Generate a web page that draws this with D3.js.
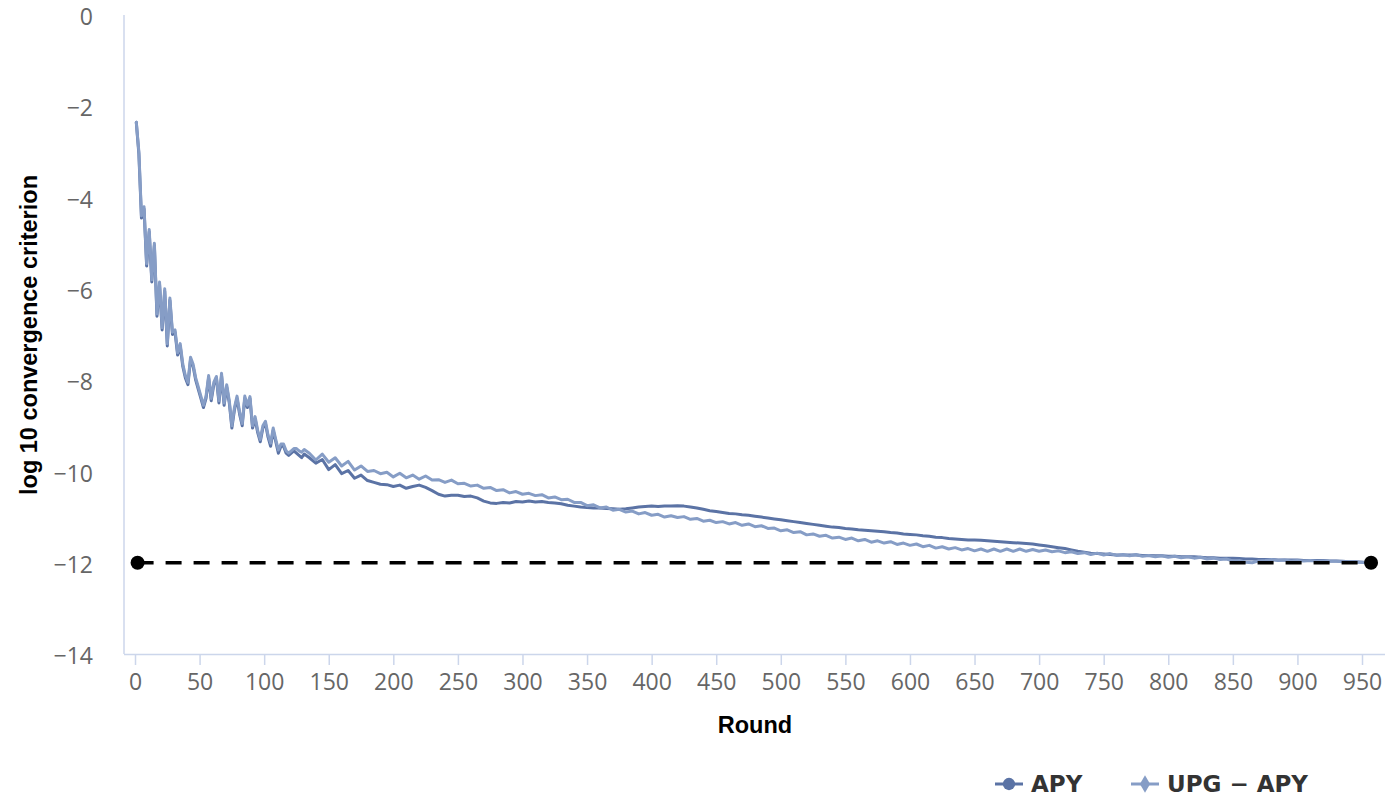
<!DOCTYPE html>
<html><head><meta charset="utf-8">
<script src="https://cdn.jsdelivr.net/npm/d3@7"></script>
<style>body{margin:0;background:#fff}svg{display:block}</style>
</head><body>
<svg id="chart" width="1389" height="798"></svg>
<script>
// ---------- data ----------
const seriesNames = ["APY", "UPG − APY"];
const roundsEarly = d3.range(1, 132, 2);           // rounds 1..131
const roundsLate = d3.range(135, 956, 5).concat([957]); // rounds 135..955, 957
const rounds = roundsEarly.concat(roundsLate);

const apyEarly = [
 -2.35,-3.05,-4.45,-4.25,-5.5,-4.75,-5.85,-5.05,-6.6,-5.9,
 -6.9,-6.05,-7.25,-6.25,-7.0,-6.95,-7.45,-7.25,-7.7,-7.95,
 -8.1,-7.55,-7.7,-8.0,-8.2,-8.4,-8.6,-8.4,-7.95,-8.45,
 -8.1,-7.95,-8.5,-7.9,-8.55,-8.15,-8.5,-9.05,-8.65,-8.4,
 -8.75,-9.0,-8.4,-8.6,-8.4,-9.05,-8.85,-9.15,-9.35,-9.05,
 -8.95,-9.25,-9.45,-9.1,-9.35,-9.6,-9.45,-9.45,-9.6,-9.65,
 -9.6,-9.55,-9.6,-9.65,-9.7,-9.62];
const apyLate = [
 -9.7,-9.82,-9.74,-9.96,-9.85,-10.05,-9.98,-10.15,-10.08,-10.2,
 -10.24,-10.28,-10.29,-10.33,-10.3,-10.37,-10.33,-10.3,-10.35,-10.42,
 -10.5,-10.54,-10.52,-10.52,-10.55,-10.54,-10.58,-10.65,-10.69,-10.7,
 -10.68,-10.69,-10.66,-10.67,-10.65,-10.67,-10.66,-10.68,-10.69,-10.71,
 -10.74,-10.76,-10.78,-10.79,-10.8,-10.8,-10.81,-10.82,-10.83,-10.82,
 -10.8,-10.78,-10.77,-10.76,-10.77,-10.76,-10.76,-10.75,-10.76,-10.78,
 -10.8,-10.83,-10.86,-10.88,-10.9,-10.92,-10.93,-10.95,-10.96,-10.98,
 -11.0,-11.02,-11.04,-11.06,-11.08,-11.1,-11.12,-11.14,-11.16,-11.18,
 -11.2,-11.22,-11.23,-11.25,-11.26,-11.28,-11.29,-11.3,-11.31,-11.32,
 -11.34,-11.35,-11.37,-11.38,-11.39,-11.41,-11.42,-11.44,-11.45,-11.47,
 -11.48,-11.49,-11.5,-11.5,-11.51,-11.52,-11.53,-11.54,-11.55,-11.56,
 -11.57,-11.58,-11.59,-11.61,-11.63,-11.65,-11.67,-11.69,-11.72,-11.75,
 -11.77,-11.79,-11.8,-11.81,-11.82,-11.83,-11.83,-11.83,-11.83,-11.84,
 -11.84,-11.85,-11.85,-11.86,-11.86,-11.87,-11.87,-11.87,-11.88,-11.89,
 -11.89,-11.9,-11.9,-11.9,-11.91,-11.92,-11.92,-11.93,-11.93,-11.93,
 -11.94,-11.94,-11.94,-11.94,-11.95,-11.95,-11.95,-11.95,-11.96,-11.96,
 -11.97,-11.98,-11.98,-11.99,-12.0,-12.0];

const upgEarly = [
 -2.35,-3.0,-4.4,-4.2,-5.45,-4.7,-5.8,-5.0,-6.55,-5.85,
 -6.85,-6.0,-7.2,-6.2,-6.95,-6.9,-7.4,-7.2,-7.65,-7.9,
 -8.05,-7.5,-7.65,-7.95,-8.15,-8.35,-8.55,-8.35,-7.9,-8.4,
 -8.05,-7.92,-8.45,-7.85,-8.5,-8.1,-8.45,-9.0,-8.6,-8.35,
 -8.7,-8.95,-8.35,-8.55,-8.36,-9.0,-8.8,-9.1,-9.3,-9.0,
 -8.9,-9.2,-9.38,-9.05,-9.3,-9.53,-9.4,-9.4,-9.55,-9.6,
 -9.55,-9.5,-9.5,-9.55,-9.58,-9.52];
const upgLate = [
 -9.6,-9.75,-9.62,-9.8,-9.7,-9.88,-9.78,-9.97,-9.88,-10.0,
 -9.98,-10.05,-10.02,-10.12,-10.04,-10.14,-10.08,-10.17,-10.1,-10.19,
 -10.18,-10.24,-10.19,-10.27,-10.26,-10.32,-10.3,-10.37,-10.35,-10.42,
 -10.4,-10.47,-10.44,-10.5,-10.48,-10.53,-10.51,-10.58,-10.56,-10.62,
 -10.61,-10.68,-10.68,-10.75,-10.73,-10.8,-10.78,-10.85,-10.83,-10.89,
 -10.87,-10.93,-10.9,-10.96,-10.94,-11.0,-10.97,-11.01,-10.99,-11.05,
 -11.03,-11.09,-11.07,-11.12,-11.1,-11.15,-11.12,-11.18,-11.15,-11.21,
 -11.19,-11.25,-11.24,-11.3,-11.28,-11.34,-11.32,-11.39,-11.37,-11.42,
 -11.4,-11.46,-11.44,-11.49,-11.46,-11.52,-11.49,-11.55,-11.52,-11.57,
 -11.54,-11.6,-11.57,-11.62,-11.59,-11.65,-11.62,-11.68,-11.65,-11.7,
 -11.67,-11.72,-11.69,-11.74,-11.7,-11.75,-11.7,-11.75,-11.7,-11.75,
 -11.7,-11.75,-11.71,-11.75,-11.72,-11.76,-11.74,-11.78,-11.76,-11.8,
 -11.78,-11.82,-11.79,-11.83,-11.8,-11.84,-11.82,-11.85,-11.82,-11.86,
 -11.84,-11.87,-11.85,-11.88,-11.86,-11.89,-11.87,-11.9,-11.88,-11.92,
 -11.9,-11.93,-11.92,-11.96,-11.95,-11.99,-12.0,-11.96,-11.95,-11.93,
 -11.95,-11.94,-11.96,-11.95,-11.96,-11.95,-11.97,-11.96,-11.97,-11.97,
 -11.98,-11.98,-11.99,-11.99,-12.0,-12.0];

const apyValues = apyEarly.concat(apyLate);
const upgValues = upgEarly.concat(upgLate);

const thresholdValue = -12;
const thresholdRounds = [2, 957];

const xTicks = [0,50,100,150,200,250,300,350,400,450,500,550,600,650,700,750,800,850,900,950];
const yTicks = [0,-2,-4,-6,-8,-10,-12,-14];
const xTitle = "Round";
const yTitle = "log 10 convergence criterion";

const colors = ["#5b73a5", "#869dc6"];

// ---------- chart ----------
const svg = d3.select("#chart");
const plotLeft = 124, plotRight = 1385, plotTop = 15, plotBottom = 654;
const x = d3.scaleLinear().domain([-8.52, 967.8]).range([plotLeft, plotRight]);
const y = d3.scaleLinear().domain([-14, 0]).range([plotBottom, plotTop]);

const axisColor = "#ccd6eb";
const tickFont = "'Open Sans', 'Noto Sans', sans-serif";
const tickSize = 23;

// y axis line
svg.append("line").attr("x1", plotLeft).attr("x2", plotLeft)
  .attr("y1", plotTop).attr("y2", plotBottom)
  .attr("stroke", axisColor).attr("stroke-width", 1.5);

// y tick labels
svg.append("g").selectAll("text").data(yTicks).join("text")
  .attr("x", 93).attr("y", d => y(d)).attr("dy", "0.44em")
  .attr("text-anchor", "end")
  .attr("font-family", tickFont).attr("font-size", tickSize).attr("fill", "#666")
  .text(d => d === 0 ? "0" : "−" + Math.abs(d));

// x axis
const xAxis = d3.axisBottom(x).tickValues(xTicks).tickSize(11).tickPadding(9).tickFormat(d3.format("d"));
const gx = svg.append("g").attr("transform", `translate(0,${plotBottom})`).call(xAxis);
gx.select(".domain").attr("stroke", axisColor).attr("stroke-width", 1.5)
  .attr("d", `M${plotLeft},0.5H${plotRight}`);
gx.selectAll(".tick line").attr("stroke", axisColor).attr("stroke-width", 1.5);
gx.selectAll(".tick text").attr("font-family", tickFont).attr("font-size", tickSize).attr("fill", "#666");

// axis titles
svg.append("text").attr("x", 755).attr("y", 733).attr("text-anchor", "middle")
  .attr("font-family", "'Liberation Sans', Arial, sans-serif").attr("font-weight", "bold")
  .attr("font-size", 23.5).attr("fill", "#000").text(xTitle);
svg.append("text").attr("transform", "translate(37,335) rotate(-90)").attr("text-anchor", "middle")
  .attr("font-family", "'Liberation Sans', Arial, sans-serif").attr("font-weight", "bold")
  .attr("font-size", 23.5).attr("fill", "#000").text(yTitle);

// series
const line = d3.line().x(d => x(d[0])).y(d => y(d[1]));
const series = [apyValues, upgValues];
series.forEach((vals, i) => {
  const pts = rounds.map((r, k) => [r, vals[k]]);
  svg.append("path").datum(pts).attr("d", line)
    .attr("fill", "none").attr("stroke", colors[i]).attr("stroke-width", 3)
    .attr("stroke-linejoin", "round").attr("stroke-linecap", "round");
});

// threshold dashed line with end markers
svg.append("line")
  .attr("x1", x(thresholdRounds[0])).attr("x2", x(thresholdRounds[1]))
  .attr("y1", y(thresholdValue)).attr("y2", y(thresholdValue))
  .attr("stroke", "#000").attr("stroke-width", 3.4).attr("stroke-dasharray", "16,12");
svg.append("g").selectAll("circle").data(thresholdRounds).join("circle")
  .attr("cx", d => x(d)).attr("cy", y(thresholdValue)).attr("r", 7).attr("fill", "#000");

// legend
const legend = svg.append("g");
const legendItems = [
  {name: seriesNames[0], color: colors[0], sym: "circle", x: 995},
  {name: seriesNames[1], color: colors[1], sym: "diamond", x: 1131}
];
const ly = 784;
legendItems.forEach(it => {
  legend.append("line").attr("x1", it.x).attr("x2", it.x + 28).attr("y1", ly).attr("y2", ly)
    .attr("stroke", it.color).attr("stroke-width", 3);
  const sym = it.sym === "circle" ? d3.symbolCircle : d3.symbolDiamond;
  legend.append("path").attr("d", d3.symbol().type(sym).size(it.sym === "circle" ? 120 : 90)())
    .attr("transform", `translate(${it.x + 14},${ly})`).attr("fill", it.color);
  legend.append("text").attr("x", it.x + 36).attr("y", ly).attr("dy", "0.36em")
    .attr("font-family", "'DejaVu Sans', sans-serif").attr("font-weight", 700)
    .attr("font-size", 23).attr("fill", "#333").text(it.name);
});
</script>
</body></html>
